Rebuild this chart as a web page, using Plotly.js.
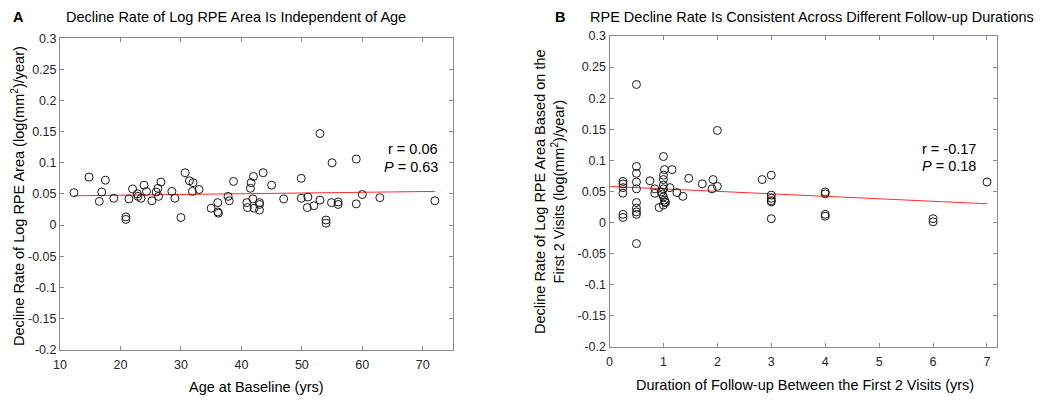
<!DOCTYPE html>
<html>
<head>
<meta charset="utf-8">
<script src="https://cdn.plot.ly/plotly-3.0.1.min.js"></script>
<style>
  html, body { margin: 0; padding: 0; background: #ffffff; }
  #chart { width: 1050px; height: 402px; }
</style>
</head>
<body>
<div id="chart"></div>
<script>
// Panel A: age at baseline vs decline rate of log RPE area
const ageA = [12.3, 14.8, 16.5, 16.9, 17.5, 18.9, 20.9, 20.9, 21.4, 22.0, 22.8, 22.9, 23.4, 23.9, 24.3,
    25.2, 25.9, 26.2, 26.3, 26.7, 28.5, 29.0, 30.0, 30.7, 31.4, 32.0, 31.9, 33.0, 35.0, 36.1, 36.1, 36.2,
    37.8, 38.0, 38.7, 40.9, 41.0, 41.5, 41.6, 42.0, 41.9, 42.1, 43.0, 43.0, 43.0, 43.6, 45.0, 47.0, 49.9,
    49.9, 51.0, 50.9, 52.0, 53.0, 53.0, 54.9, 55.0, 56.0, 56.0, 54.0, 54.0, 59.0, 59.0, 60.0, 62.9, 72.0];
const rateA = [0.052, 0.077, 0.038, 0.053, 0.072, 0.043, 0.013, 0.009, 0.042, 0.058, 0.050, 0.046, 0.043, 0.064, 0.054,
    0.039, 0.053, 0.059, 0.046, 0.069, 0.054, 0.043, 0.012, 0.084, 0.071, 0.068, 0.054, 0.057, 0.027, 0.036, 0.021, 0.019,
    0.046, 0.039, 0.070, 0.036, 0.028, 0.059, 0.068, 0.078, 0.042, 0.027, 0.036, 0.033, 0.024, 0.084, 0.064, 0.042, 0.075,
    0.043, 0.045, 0.028, 0.031, 0.040, 0.147, 0.036, 0.100, 0.037, 0.033, 0.008, 0.003, 0.106, 0.034, 0.049, 0.044, 0.039];
const fitAgeA = [12.3, 72.0];
const fitRateA = [0.047, 0.054];

// Panel B: follow-up duration vs decline rate
const durB = [0.5, 2.0, 1.0, 0.5, 0.5, 0.5, 0.5, 0.5, 0.5, 0.5, 0.5, 0.5,
    0.25, 0.25, 0.25, 0.25, 0.25, 0.25,
    0.75, 0.84, 0.84, 0.92, 1.0, 1.0, 1.02, 1.16, 1.0, 1.0, 0.96, 0.98, 1.0, 1.02, 1.04, 1.0, 1.03,
    1.12, 1.25, 1.36, 1.47, 1.72, 1.92, 1.9, 2.0,
    2.83, 3.0, 3.0, 3.0, 3.0, 3.0, 3.0,
    4.0, 4.0, 4.0, 4.0, 6.0, 6.0, 7.0];
const rateB = [0.222, 0.148, 0.106, 0.090, 0.079, 0.065, 0.054, 0.032, 0.023, 0.017, 0.013, -0.034,
    0.066, 0.062, 0.056, 0.047, 0.013, 0.008,
    0.067, 0.054, 0.047, 0.024, 0.076, 0.069, 0.085, 0.085, 0.060, 0.054, 0.049, 0.045, 0.041, 0.036, 0.032, 0.028, 0.033,
    0.056, 0.048, 0.042, 0.071, 0.062, 0.069, 0.054, 0.058,
    0.069, 0.076, 0.044, 0.039, 0.035, 0.033, 0.006,
    0.049, 0.046, 0.013, 0.010, 0.006, 0.001, 0.065];
const fitDurB = [0, 7.0];
const fitRateB = [0.058, 0.030];

// Tick labels (MATLAB style, plain hyphen minus)
const yTickVals = [-0.2, -0.15, -0.1, -0.05, 0, 0.05, 0.1, 0.15, 0.2, 0.25, 0.3];
const yTickText = ['-0.2', '-0.15', '-0.1', '-0.05', '0', '0.05', '0.1', '0.15', '0.2', '0.25', '0.3'];
const xTickValsA = [10, 20, 30, 40, 50, 60, 70];
const xTickValsB = [0, 1, 2, 3, 4, 5, 6, 7];

const FONT = 'Arial, "Liberation Sans", sans-serif';
const AXIS_GRAY = '#8a8a8a';
const TEXT_DARK = '#262626';
const TEXT_SIZE = 14.5;

function axisBase(extra) {
    return Object.assign({
        showgrid: false,
        zeroline: false,
        showline: true,
        linecolor: AXIS_GRAY,
        linewidth: 1,
        mirror: 'ticks',
        ticks: 'inside',
        ticklen: 4,
        tickwidth: 1,
        tickcolor: AXIS_GRAY,
        tickfont: { family: FONT, size: 12.5, color: TEXT_DARK },
        fixedrange: true
    }, extra);
}

const markerStyle = {
    symbol: 'circle-open',
    size: 8,
    color: '#1a1a1a',
    line: { width: 1, color: '#1a1a1a' }
};

const fitLine = { color: '#ff2b2b', width: 1 };

const traces = [
    { x: fitAgeA, y: fitRateA, xaxis: 'x', yaxis: 'y', mode: 'lines', line: fitLine, hoverinfo: 'skip' },
    { x: ageA, y: rateA, xaxis: 'x', yaxis: 'y', mode: 'markers', marker: markerStyle },
    { x: fitDurB, y: fitRateB, xaxis: 'x2', yaxis: 'y2', mode: 'lines', line: fitLine, hoverinfo: 'skip' },
    { x: durB, y: rateB, xaxis: 'x2', yaxis: 'y2', mode: 'markers', marker: markerStyle }
];

function note(text, x, y, opts) {
    return Object.assign({
        text: text, x: x, y: y, xref: 'paper', yref: 'paper',
        showarrow: false, font: { family: FONT, size: TEXT_SIZE, color: '#000000' }
    }, opts);
}

const annotations = [
    // panel letters and titles
    note('<b>A</b>', 18 / 1050, 1 - 17 / 402, { xanchor: 'center', yanchor: 'middle' }),
    note('Decline Rate of Log RPE Area Is Independent of Age', 236 / 1050, 1 - 17 / 402, { xanchor: 'center', yanchor: 'middle' }),
    note('<b>B</b>', 560 / 1050, 1 - 17 / 402, { xanchor: 'center', yanchor: 'middle' }),
    note('RPE Decline Rate Is Consistent Across Different Follow-up Durations', 812 / 1050, 1 - 17 / 402, { xanchor: 'center', yanchor: 'middle' }),
    // axis titles
    note('Age at Baseline (yrs)', 256 / 1050, 1 - 387 / 402, { xanchor: 'center', yanchor: 'middle' }),
    note('Duration of Follow-up Between the First 2 Visits (yrs)', 805 / 1050, 1 - 385 / 402, { xanchor: 'center', yanchor: 'middle' }),
    note('Decline Rate of Log RPE Area (log(mm<sup>2</sup>)/year)', 18 / 1050, 1 - 196 / 402,
        { xanchor: 'center', yanchor: 'middle', textangle: -90 }),
    note('Decline Rate of Log RPE Area Based on the<br>First 2 Visits (log(mm<sup>2</sup>)/year)', 549 / 1050, 1 - 192 / 402,
        { xanchor: 'center', yanchor: 'middle', textangle: -90 }),
    // statistics
    note('r = 0.06', 72.8, 0.122, { xref: 'x', yref: 'y', xanchor: 'right', yanchor: 'middle' }),
    note('<i>P</i> = 0.63', 72.8, 0.094, { xref: 'x', yref: 'y', xanchor: 'right', yanchor: 'middle' }),
    note('r = -0.17', 6.84, 0.118, { xref: 'x2', yref: 'y2', xanchor: 'right', yanchor: 'middle' }),
    note('<i>P</i> = 0.18', 6.84, 0.091, { xref: 'x2', yref: 'y2', xanchor: 'right', yanchor: 'middle' })
];

const layout = {
    width: 1050,
    height: 402,
    margin: { l: 0, r: 0, t: 0, b: 0 },
    paper_bgcolor: '#ffffff',
    plot_bgcolor: '#ffffff',
    showlegend: false,
    font: { family: FONT, color: TEXT_DARK },
    xaxis: axisBase({ domain: [60 / 1050, 453 / 1050], range: [10, 75], tickvals: xTickValsA,
        anchor: 'y', ticklabelstandoff: 3 }),
    yaxis: axisBase({ domain: [(402 - 349.5) / 402, (402 - 38.3) / 402], range: [-0.2, 0.3],
        tickvals: yTickVals, ticktext: yTickText, anchor: 'x' }),
    xaxis2: axisBase({ domain: [609.5 / 1050, 996.7 / 1050], range: [0, 7.18], tickvals: xTickValsB,
        anchor: 'y2', ticklabelstandoff: 3 }),
    yaxis2: axisBase({ domain: [(402 - 346.7) / 402, (402 - 36) / 402], range: [-0.2, 0.3],
        tickvals: yTickVals, ticktext: yTickText, anchor: 'x2' }),
    annotations: annotations
};

Plotly.newPlot('chart', traces, layout, { displayModeBar: false, staticPlot: true });
</script>
</body>
</html>
